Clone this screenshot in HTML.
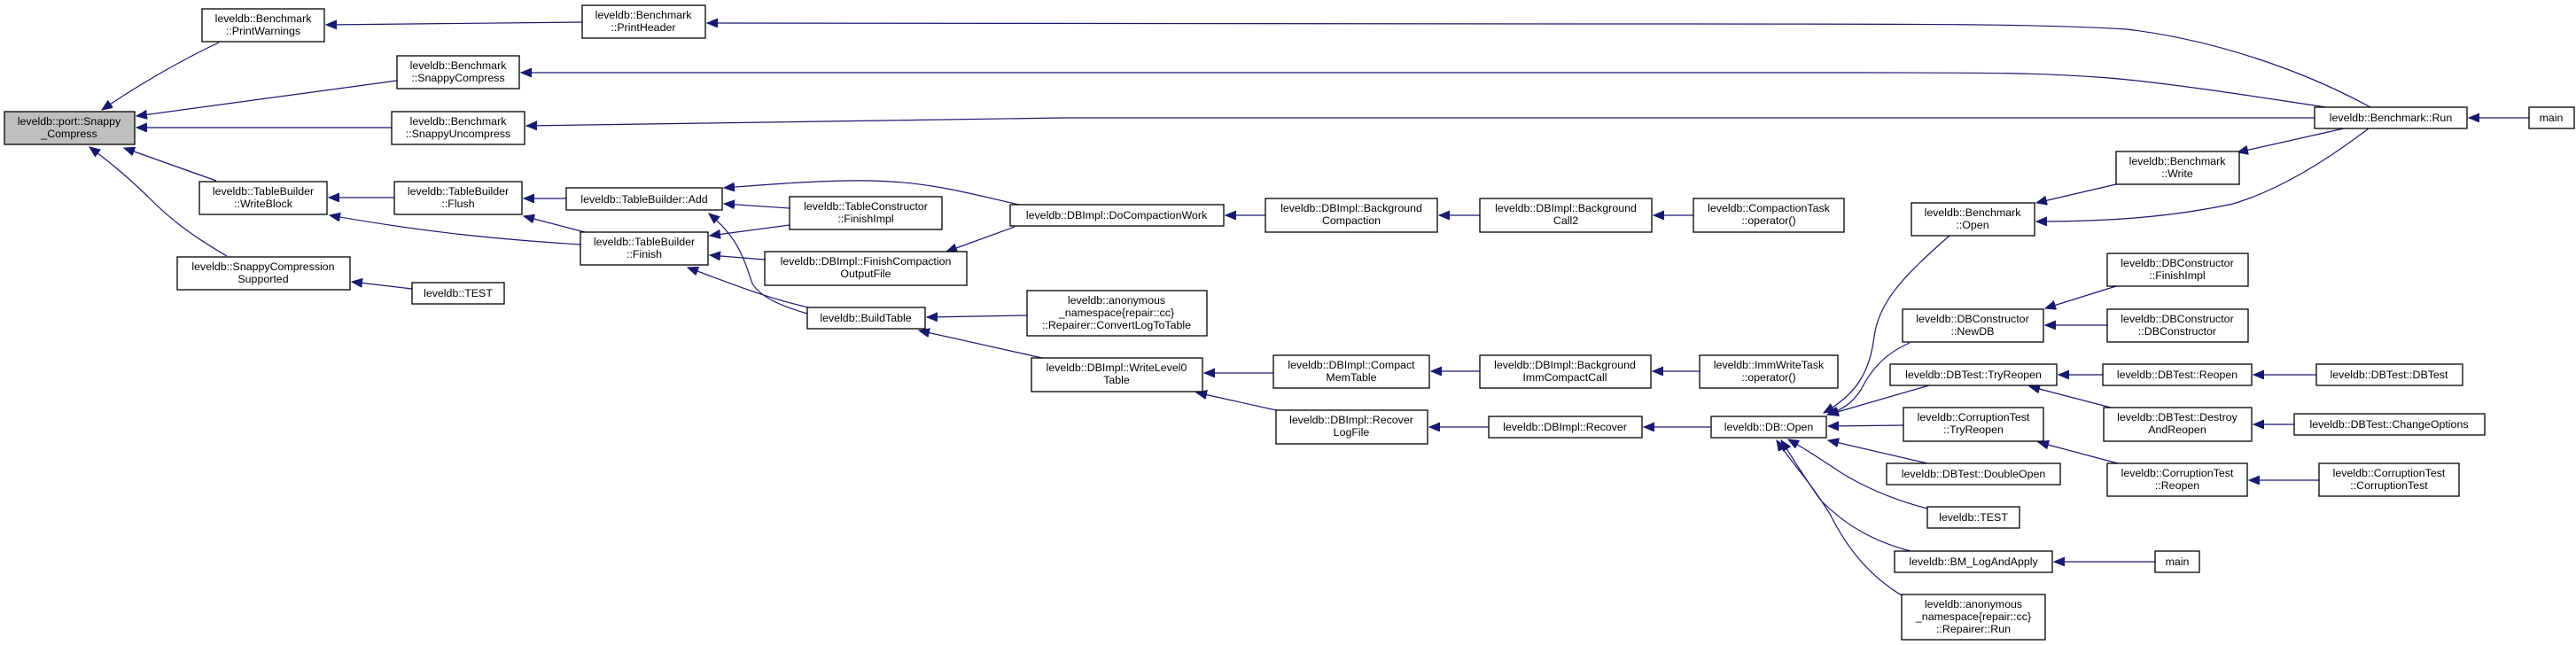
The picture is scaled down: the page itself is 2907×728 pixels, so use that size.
<!DOCTYPE html>
<html><head><meta charset="utf-8"><style>
html,body{margin:0;padding:0;background:#fff;}
svg{display:block;}
text{font-family:"Liberation Sans",Arial,sans-serif;font-size:12.4px;fill:#000;text-anchor:middle;}
.n{fill:#fff;stroke:#000;stroke-width:1.3;}
.g{fill:#bfbfbf;stroke:#000;stroke-width:1.3;}
.e{fill:none;stroke:#191970;stroke-width:1.2;marker-end:url(#a);}
</style></head><body>
<svg width="2907" height="728" viewBox="0 0 2907 728" xmlns="http://www.w3.org/2000/svg">
<defs><marker id="a" markerUnits="userSpaceOnUse" markerWidth="14" markerHeight="12" refX="12" refY="5" orient="auto"><path d="M0,0 L12,5 L0,10 z" fill="#191970" stroke="#191970"/></marker></defs>

<!-- edges -->
<path class="e" d="M247,48 C200,70 150,100 115,124"/>
<path class="e" d="M448,91 L154,131"/>
<path class="e" d="M442,144 L154,144"/>
<path class="e" d="M244,204 L140,167"/>
<path class="e" d="M256,289 C220,268 195,250 170,225 C145,200 120,180 101,166"/>
<path class="e" d="M657,25 L368,28"/>
<path class="e" d="M2675,121 C2600,80 2500,45 2400,33 C2300,27 2200,27 1800,27 L798,26"/>
<path class="e" d="M2625,121 C2520,105 2440,93 2380,88 C2300,82 2250,82 2100,82 L588,82"/>
<path class="e" d="M2612,133 L1200,133 L594,142"/>
<path class="e" d="M445,223 L371,223"/>
<path class="e" d="M655,276 C560,270 480,262 372,243"/>
<path class="e" d="M639,224 L591,224"/>
<path class="e" d="M660,262 L591,244"/>
<path class="e" d="M1150,231 C1100,220 1050,205 983,204 C930,203 870,208 817,212"/>
<path class="e" d="M891,235 L817,230"/>
<path class="e" d="M911,354 C880,345 858,335 849,320 C840,295 835,270 800,241"/>
<path class="e" d="M891,254 L801,266"/>
<path class="e" d="M863,293 L801,288"/>
<path class="e" d="M912,347 C860,335 820,318 776,302"/>
<path class="e" d="M1145,256 L1068,284"/>
<path class="e" d="M1428,243 L1383,243"/>
<path class="e" d="M1670,243 L1624,243"/>
<path class="e" d="M1911,243 L1866,243"/>
<path class="e" d="M1159,356 L1046,358"/>
<path class="e" d="M1176,404 L1037,373"/>
<path class="e" d="M1437,421 L1359,421"/>
<path class="e" d="M1440,463 L1350,443"/>
<path class="e" d="M1670,419 L1615,419"/>
<path class="e" d="M1680,482 L1613,482"/>
<path class="e" d="M1918,419 L1865,419"/>
<path class="e" d="M1931,482 L1855,482"/>
<path class="e" d="M2200,266 C2150,310 2120,340 2115,380 C2110,420 2095,445 2058,466"/>
<path class="e" d="M2155,387 C2125,400 2110,420 2100,440 C2090,455 2080,462 2062,468"/>
<path class="e" d="M2177,435 L2063,468"/>
<path class="e" d="M2148,480 L2063,481"/>
<path class="e" d="M2175,523 L2063,497"/>
<path class="e" d="M2175,574 C2140,565 2110,553 2080,535 C2060,522 2040,508 2018,496"/>
<path class="e" d="M2156,622 C2110,610 2080,590 2055,565 C2040,545 2025,520 2010,497"/>
<path class="e" d="M2146,672 C2110,650 2085,620 2065,580 C2040,540 2020,520 2005,497"/>
<path class="e" d="M2673,145 C2620,185 2570,215 2520,230 C2450,245 2380,250 2298,250"/>
<path class="e" d="M2388,208 L2298,229"/>
<path class="e" d="M2645,145 L2525,172"/>
<path class="e" d="M2388,323 L2308,348"/>
<path class="e" d="M2378,367 L2308,367"/>
<path class="e" d="M2373,423 L2323,423"/>
<path class="e" d="M2382,460 L2290,436"/>
<path class="e" d="M2614,423 L2543,423"/>
<path class="e" d="M2589,479 L2543,479"/>
<path class="e" d="M2390,523 L2300,499"/>
<path class="e" d="M2617,542 L2538,542"/>
<path class="e" d="M2432,634 L2318,634"/>
<path class="e" d="M2854,133 L2786,133"/>
<path class="e" d="M465,326 L397,318"/>

<!-- nodes -->
<rect class="g" x="5" y="126" width="147" height="37"/><text x="78" y="141">leveldb::port::Snappy</text><text x="78" y="155">_Compress</text>
<rect class="n" x="228" y="10" width="138" height="37"/><text x="297" y="25">leveldb::Benchmark</text><text x="297" y="39">::PrintWarnings</text>
<rect class="n" x="448" y="63" width="138" height="37"/><text x="517" y="78">leveldb::Benchmark</text><text x="517" y="92">::SnappyCompress</text>
<rect class="n" x="442" y="126" width="150" height="37"/><text x="517" y="141">leveldb::Benchmark</text><text x="517" y="155">::SnappyUncompress</text>
<rect class="n" x="225" y="205" width="144" height="37"/><text x="297" y="220">leveldb::TableBuilder</text><text x="297" y="234">::WriteBlock</text>
<rect class="n" x="445" y="205" width="144" height="37"/><text x="517" y="220">leveldb::TableBuilder</text><text x="517" y="234">::Flush</text>
<rect class="n" x="200" y="290" width="195" height="37"/><text x="297" y="305">leveldb::SnappyCompression</text><text x="297" y="319">Supported</text>
<rect class="n" x="465" y="319" width="104" height="24"/><text x="517" y="335">leveldb::TEST</text>
<rect class="n" x="657" y="6" width="139" height="37"/><text x="726" y="21">leveldb::Benchmark</text><text x="726" y="35">::PrintHeader</text>
<rect class="n" x="639" y="212" width="176" height="25"/><text x="727" y="229">leveldb::TableBuilder::Add</text>
<rect class="n" x="891" y="222" width="172" height="37"/><text x="977" y="237">leveldb::TableConstructor</text><text x="977" y="251">::FinishImpl</text>
<rect class="n" x="655" y="262" width="144" height="37"/><text x="727" y="277">leveldb::TableBuilder</text><text x="727" y="291">::Finish</text>
<rect class="n" x="863" y="284" width="228" height="38"/><text x="977" y="299">leveldb::DBImpl::FinishCompaction</text><text x="977" y="313">OutputFile</text>
<rect class="n" x="911" y="347" width="133" height="24"/><text x="977" y="363">leveldb::BuildTable</text>
<rect class="n" x="1140" y="231" width="241" height="24"/><text x="1260" y="247">leveldb::DBImpl::DoCompactionWork</text>
<rect class="n" x="1159" y="328" width="203" height="51"/><text x="1260" y="343">leveldb::anonymous</text><text x="1260" y="357">_namespace{repair::cc}</text><text x="1260" y="371">::Repairer::ConvertLogToTable</text>
<rect class="n" x="1164" y="404" width="193" height="38"/><text x="1260" y="419">leveldb::DBImpl::WriteLevel0</text><text x="1260" y="433">Table</text>
<rect class="n" x="1428" y="224" width="194" height="38"/><text x="1525" y="239">leveldb::DBImpl::Background</text><text x="1525" y="253">Compaction</text>
<rect class="n" x="1437" y="401" width="176" height="37"/><text x="1525" y="416">leveldb::DBImpl::Compact</text><text x="1525" y="430">MemTable</text>
<rect class="n" x="1440" y="463" width="171" height="38"/><text x="1525" y="478">leveldb::DBImpl::Recover</text><text x="1525" y="492">LogFile</text>
<rect class="n" x="1670" y="224" width="194" height="38"/><text x="1767" y="239">leveldb::DBImpl::Background</text><text x="1767" y="253">Call2</text>
<rect class="n" x="1670" y="401" width="193" height="37"/><text x="1766" y="416">leveldb::DBImpl::Background</text><text x="1766" y="430">ImmCompactCall</text>
<rect class="n" x="1680" y="470" width="173" height="24"/><text x="1766" y="486">leveldb::DBImpl::Recover</text>
<rect class="n" x="1911" y="224" width="170" height="38"/><text x="1996" y="239">leveldb::CompactionTask</text><text x="1996" y="253">::operator()</text>
<rect class="n" x="1918" y="401" width="156" height="37"/><text x="1996" y="416">leveldb::ImmWriteTask</text><text x="1996" y="430">::operator()</text>
<rect class="n" x="1931" y="470" width="130" height="24"/><text x="1996" y="486">leveldb::DB::Open</text>
<rect class="n" x="2157" y="229" width="139" height="37"/><text x="2226" y="244">leveldb::Benchmark</text><text x="2226" y="258">::Open</text>
<rect class="n" x="2147" y="349" width="159" height="37"/><text x="2226" y="364">leveldb::DBConstructor</text><text x="2226" y="378">::NewDB</text>
<rect class="n" x="2133" y="411" width="188" height="24"/><text x="2227" y="427">leveldb::DBTest::TryReopen</text>
<rect class="n" x="2148" y="460" width="158" height="38"/><text x="2227" y="475">leveldb::CorruptionTest</text><text x="2227" y="489">::TryReopen</text>
<rect class="n" x="2129" y="523" width="196" height="24"/><text x="2227" y="539">leveldb::DBTest::DoubleOpen</text>
<rect class="n" x="2175" y="572" width="104" height="24"/><text x="2227" y="588">leveldb::TEST</text>
<rect class="n" x="2138" y="622" width="178" height="24"/><text x="2227" y="638">leveldb::BM_LogAndApply</text>
<rect class="n" x="2146" y="671" width="162" height="51"/><text x="2227" y="686">leveldb::anonymous</text><text x="2227" y="700">_namespace{repair::cc}</text><text x="2227" y="714">::Repairer::Run</text>
<rect class="n" x="2388" y="171" width="139" height="37"/><text x="2457" y="186">leveldb::Benchmark</text><text x="2457" y="200">::Write</text>
<rect class="n" x="2378" y="286" width="159" height="37"/><text x="2457" y="301">leveldb::DBConstructor</text><text x="2457" y="315">::FinishImpl</text>
<rect class="n" x="2378" y="349" width="159" height="37"/><text x="2457" y="364">leveldb::DBConstructor</text><text x="2457" y="378">::DBConstructor</text>
<rect class="n" x="2373" y="411" width="168" height="24"/><text x="2457" y="427">leveldb::DBTest::Reopen</text>
<rect class="n" x="2374" y="460" width="167" height="38"/><text x="2457" y="475">leveldb::DBTest::Destroy</text><text x="2457" y="489">AndReopen</text>
<rect class="n" x="2378" y="523" width="158" height="37"/><text x="2457" y="538">leveldb::CorruptionTest</text><text x="2457" y="552">::Reopen</text>
<rect class="n" x="2432" y="622" width="50" height="24"/><text x="2457" y="638">main</text>
<rect class="n" x="2612" y="121" width="172" height="24"/><text x="2698" y="137">leveldb::Benchmark::Run</text>
<rect class="n" x="2614" y="411" width="165" height="24"/><text x="2696" y="427">leveldb::DBTest::DBTest</text>
<rect class="n" x="2589" y="467" width="215" height="24"/><text x="2696" y="483">leveldb::DBTest::ChangeOptions</text>
<rect class="n" x="2617" y="523" width="158" height="37"/><text x="2696" y="538">leveldb::CorruptionTest</text><text x="2696" y="552">::CorruptionTest</text>
<rect class="n" x="2854" y="121" width="51" height="24"/><text x="2879" y="137">main</text>
</svg>
</body></html>
